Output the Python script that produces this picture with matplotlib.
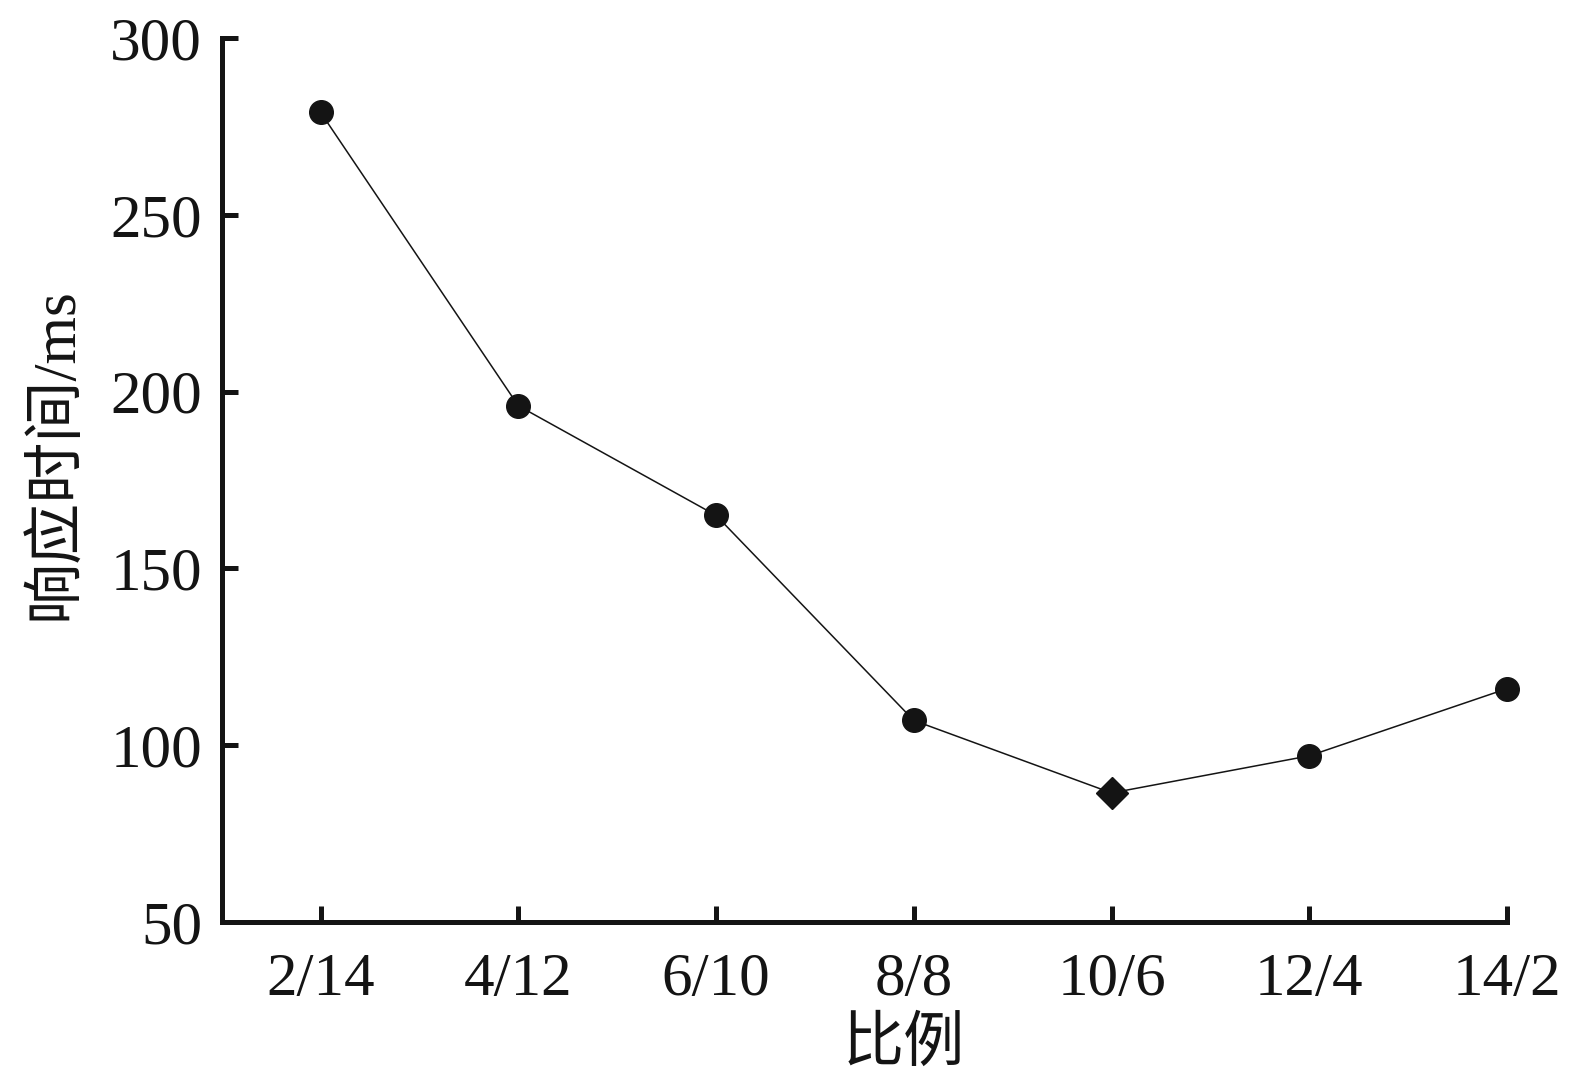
import matplotlib
matplotlib.use("Agg")
from matplotlib import pyplot as plt

ratios = ["2/14", "4/12", "6/10", "8/8", "10/6", "12/4", "14/2"]
resp_ms = [279, 196, 165, 107, 86.5, 97, 116]
best_idx = 4  # diamond marker at the minimum
yticks = [50, 100, 150, 200, 250, 300]

plt.rcParams['font.family'] = ['Liberation Serif', 'Noto Sans CJK SC']
ink = '#141414'

fig = plt.figure(figsize=(15.72, 10.86), dpi=100)
ax = fig.add_axes([0.141, 0.151, 0.8177, 0.814])

x = list(range(len(ratios)))
ax.plot(x, resp_ms, color=ink, lw=1.1, zorder=2, clip_on=False)
others = [i for i in x if i != best_idx]
ax.plot(others, [resp_ms[i] for i in others], 'o', color=ink, ms=17,
        zorder=3, clip_on=False)
ax.plot([best_idx], [resp_ms[best_idx]], 'D', color=ink, ms=16, zorder=3,
        clip_on=False)

ax.set_xlim(-0.5, 6.0)
ax.set_ylim(50, 300)
ax.set_xticks(x)
ax.set_xticklabels(ratios)
ax.set_yticks(yticks)

for s in ['top', 'right']:
    ax.spines[s].set_visible(False)
for s in ['left', 'bottom']:
    ax.spines[s].set_linewidth(3.6)
    ax.spines[s].set_color(ink)

ax.tick_params(direction='in', length=11.5, width=3.6, color=ink,
               labelsize=44, labelcolor=ink)
ax.tick_params(axis='x', pad=22)
ax.tick_params(axis='y', pad=14)

ax.set_xlabel("比例", fontsize=44, color=ink)
ax.set_ylabel("响应时间/ms", fontsize=44, color=ink)
# labels sit a bit off-centre in the original
ax.xaxis.set_label_coords(0.531, -0.108)
ax.yaxis.set_label_coords(-0.106, 0.53)

fig.savefig("out.png", dpi=100, facecolor='white')
